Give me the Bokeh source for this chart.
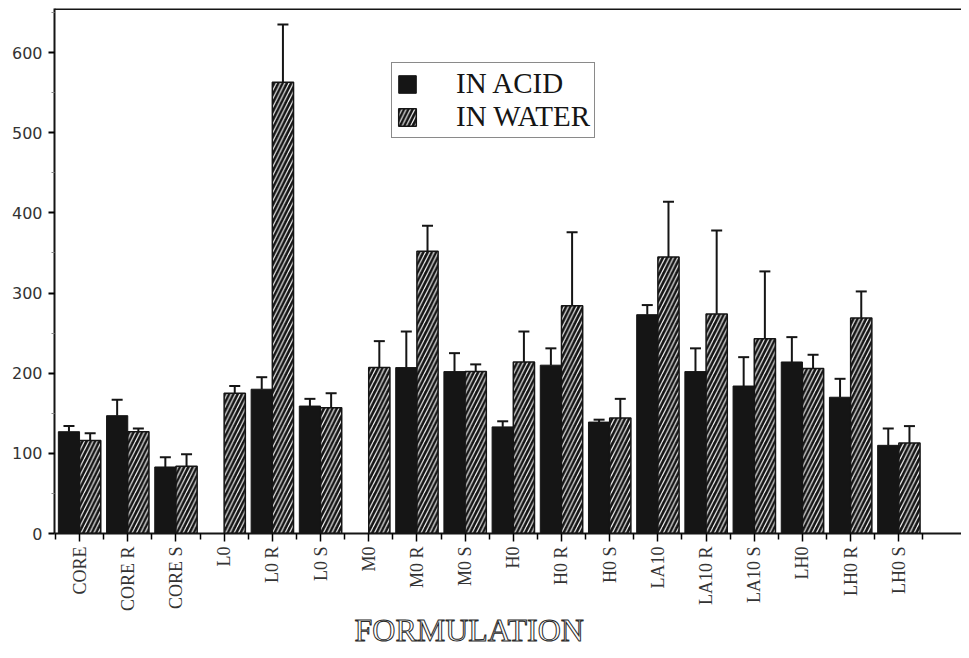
import math
from bokeh.plotting import figure
from bokeh.models import (ColumnDataSource, FixedTicker, Whisker, TeeHead, Span, Title,
                          Legend, LegendItem, Range1d)
from bokeh.embed import file_html
from bokeh.resources import INLINE

categories = ["CORE", "CORE R", "CORE S", "L0", "L0 R", "L0 S", "M0", "M0 R", "M0 S",
              "H0", "H0 R", "H0 S", "LA10", "LA10 R", "LA10 S", "LH0", "LH0 R", "LH0 S"]
acid = [127, 147, 83, None, 180, 159, None, 207, 202, 133, 210, 139, 273, 202, 184, 214, 170, 110]
acid_sd = [7, 20, 12, None, 15, 9, None, 45, 23, 7, 21, 3, 12, 29, 36, 31, 23, 21]
water = [116, 127, 84, 175, 563, 157, 207, 352, 202, 214, 284, 144, 345, 274, 243, 206, 269, 113]
water_sd = [9, 4, 15, 9, 72, 18, 33, 32, 9, 38, 92, 24, 69, 104, 84, 17, 33, 21]
y_ticks = [0, 100, 200, 300, 400, 500, 600]

FONT = "Liberation Serif"
INK = "#151515"
BAR_W = 0.44
OFF = 0.22
Y_TOP = 655

idx_a = [i for i, v in enumerate(acid) if v is not None]
src_a = ColumnDataSource(dict(
    x=[i - OFF for i in idx_a],
    top=[acid[i] for i in idx_a],
    upper=[acid[i] + acid_sd[i] for i in idx_a],
))
src_w = ColumnDataSource(dict(
    x=[i + OFF for i in range(len(categories))],
    top=water,
    upper=[w + s for w, s in zip(water, water_sd)],
))

p = figure(width=961, height=650, output_backend="svg", toolbar_location=None,
           x_range=Range1d(-0.52, 18.30), y_range=Range1d(0, Y_TOP),
           min_border_left=54, min_border_right=0, min_border_top=8, min_border_bottom=117)
p.outline_line_color = None
p.xgrid.grid_line_color = None
p.ygrid.grid_line_color = None
p.background_fill_color = "white"
p.border_fill_color = "white"

ra = p.vbar(x="x", top="top", width=BAR_W, source=src_a, fill_color=INK,
            line_color=INK, line_width=1)
rw = p.vbar(x="x", top="top", width=BAR_W, source=src_w, fill_color=INK,
            line_color=INK, line_width=1.5, hatch_pattern="/", hatch_color="white",
            hatch_scale=8.5, hatch_weight=1.1)

for src in (src_a, src_w):
    wk = Whisker(base="x", lower="top", upper="upper", source=src, dimension="height",
                 line_color=INK, line_width=2,
                 upper_head=TeeHead(size=11, line_color=INK, line_width=2),
                 lower_head=None)
    p.add_layout(wk)

p.add_layout(Span(location=Y_TOP, dimension="width", line_color=INK, line_width=3))

# axes
p.yaxis.ticker = FixedTicker(ticks=y_ticks, minor_ticks=[v + 50 for v in y_ticks])
p.yaxis.major_label_text_font = "DejaVu Sans"
p.yaxis.major_label_text_font_size = "16px"
p.yaxis.major_label_text_color = "#333333"
p.yaxis.major_label_standoff = 6
p.yaxis.axis_line_width = 2
p.yaxis.axis_line_color = INK
p.yaxis.major_tick_in = 0
p.yaxis.major_tick_out = 6
p.yaxis.minor_tick_in = 0
p.yaxis.minor_tick_out = 3
p.yaxis.major_tick_line_width = 2
p.yaxis.minor_tick_line_color = "#888888"

p.xaxis.ticker = FixedTicker(ticks=list(range(len(categories))),
                             minor_ticks=[i + 0.5 for i in range(-1, len(categories))])
p.xaxis.major_label_overrides = {i: c for i, c in enumerate(categories)}
p.xaxis.major_label_orientation = math.pi / 2
p.xaxis.major_label_text_font = FONT
p.xaxis.major_label_text_font_size = "18px"
p.xaxis.major_label_text_color = "#333333"
p.xaxis.major_label_standoff = 5
p.xaxis.axis_line_width = 2
p.xaxis.axis_line_color = INK
p.xaxis.major_tick_in = 0
p.xaxis.major_tick_out = 8
p.xaxis.minor_tick_in = 0
p.xaxis.minor_tick_out = 6
p.xaxis.major_tick_line_width = 1.5
p.xaxis.minor_tick_line_width = 1.5

p.add_layout(Title(text="FORMULATION", align="left", offset=300, standoff=-10,
                   text_font=FONT, text_font_size="32px", text_font_style="normal",
                   text_color="white", text_outline_color="#2a2a2a"), "below")

legend = Legend(items=[LegendItem(label="IN ACID", renderers=[ra]),
                       LegendItem(label="IN WATER", renderers=[rw])],
                location=(337, 395), orientation="vertical")
legend.label_text_font = FONT
legend.label_text_font_size = "29px"
legend.label_text_color = INK
legend.label_height = 29
legend.glyph_width = 22
legend.glyph_height = 22
legend.label_standoff = 38
legend.padding = 4
legend.spacing = 0
legend.margin = 0
legend.border_line_color = INK
legend.border_line_width = 1.5
legend.background_fill_alpha = 1
p.add_layout(legend)

open("out.html", "w").write(file_html(p, INLINE))
